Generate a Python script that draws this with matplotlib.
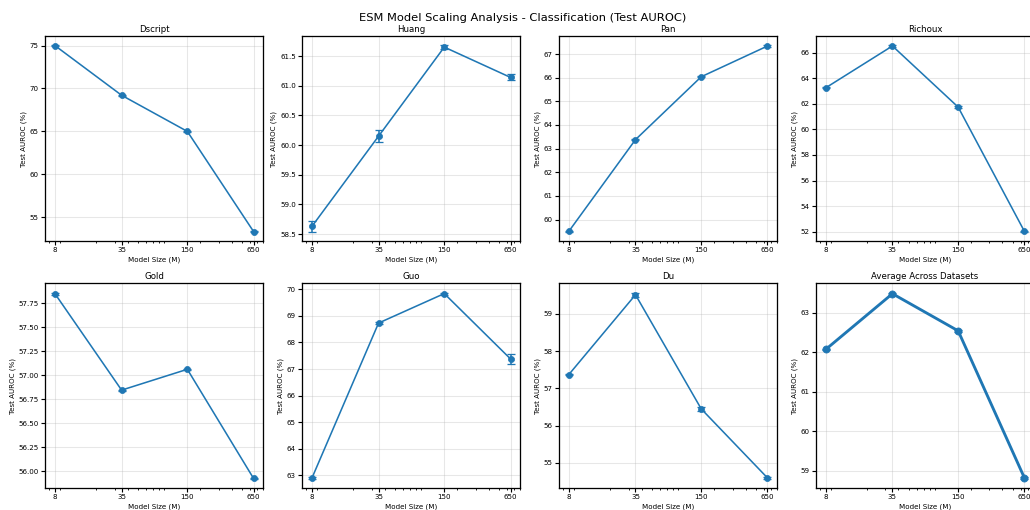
import numpy as np
import matplotlib
matplotlib.use("Agg")
import matplotlib.pyplot as plt
from matplotlib.ticker import FixedLocator, FixedFormatter, NullFormatter

# model sizes (millions of params)
model_sizes = [8, 35, 150, 650]
size_labels = ["8", "35", "150", "650"]

# test AUROC (%) per dataset
dscript = [75.00, 69.21, 65.00, 53.33]
dscript_err = [0.03, 0.05, 0.04, 0.03]
huang = [58.63, 60.15, 61.65, 61.14]
huang_err = [0.09, 0.10, 0.03, 0.05]
pan = [59.50, 63.38, 66.04, 67.34]
pan_err = [0.02, 0.03, 0.02, 0.03]
richoux = [63.25, 66.52, 61.74, 52.03]
richoux_err = [0.05, 0.05, 0.06, 0.04]
gold = [57.848, 56.843, 57.060, 55.923]
gold_err = [0.012, 0.006, 0.008, 0.006]
guo = [62.89, 68.73, 69.84, 67.38]
guo_err = [0.03, 0.03, 0.04, 0.18]
du = [57.37, 59.51, 56.45, 54.60]
du_err = [0.02, 0.06, 0.06, 0.03]
average = [62.07, 63.48, 62.54, 58.82]
average_err = [0.02, 0.03, 0.03, 0.03]

panels = [
    ("Dscript", dscript, dscript_err),
    ("Huang", huang, huang_err),
    ("Pan", pan, pan_err),
    ("Richoux", richoux, richoux_err),
    ("Gold", gold, gold_err),
    ("Guo", guo, guo_err),
    ("Du", du, du_err),
    ("Average Across Datasets", average, average_err),
]

fig, axes = plt.subplots(2, 4, figsize=(20, 9.903), dpi=51.5)
fig.subplots_adjust(left=0.0437, right=1.0042, bottom=0.0425, top=0.9294,
                    wspace=0.176, hspace=0.205)

for ax, (name, vals, errs) in zip(axes.flat, panels):
    is_avg = name.startswith("Average")
    ax.errorbar(model_sizes, vals, yerr=errs, marker="o",
                linewidth=4 if is_avg else 2.2,
                markersize=10 if is_avg else 8.5,
                capsize=5, capthick=1.8, color="#1f77b4")
    ax.set_xscale("log")
    ax.xaxis.set_major_locator(FixedLocator(model_sizes))
    ax.xaxis.set_major_formatter(FixedFormatter(size_labels))
    ax.xaxis.set_minor_formatter(NullFormatter())
    ax.set_title(name, fontsize=12)
    ax.set_xlabel("Model Size (M)", fontsize=10)
    ax.set_ylabel("Test AUROC (%)", fontsize=10)
    ax.tick_params(labelsize=10, width=1.6, length=5)
    ax.tick_params(which="minor", width=1.2, length=3)
    for sp in ax.spines.values():
        sp.set_linewidth(1.8)
        sp.set_color("black")
    ax.grid(True, alpha=0.3, linewidth=1.5)

fig.suptitle("ESM Model Scaling Analysis - Classification (Test AUROC)",
             fontsize=16, x=0.507, y=0.975)

fig.savefig("out.png", dpi=51.5)
